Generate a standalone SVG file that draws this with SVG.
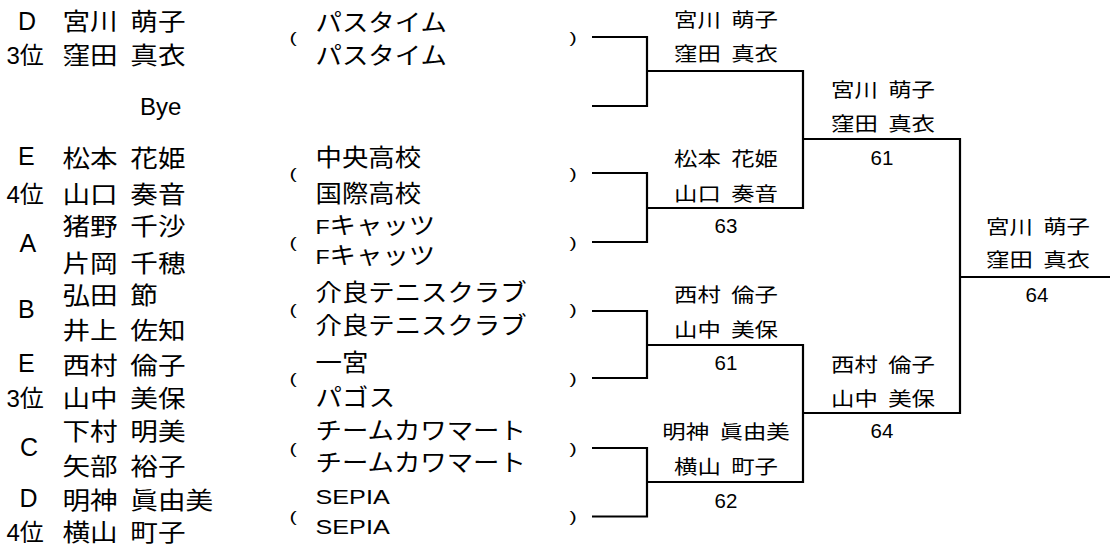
<svg xmlns="http://www.w3.org/2000/svg" width="1110" height="546" viewBox="0 0 1110 546">
<style>
.nm{font-family:"Noto Sans CJK JP",sans-serif;font-size:24px;word-spacing:5.6px;fill:#000}
.lt{font-family:"Liberation Sans","Noto Sans CJK JP",sans-serif;font-size:25px;fill:#000}
.rk{font-family:"Liberation Sans","Noto Sans CJK JP",sans-serif;font-size:24px;fill:#000}
.cl{font-family:"Liberation Sans","Noto Sans CJK JP",sans-serif;font-size:24px;fill:#000}
.pr{font-family:"Liberation Sans",sans-serif;font-size:14.5px;fill:#000}
.lb{font-family:"Noto Sans CJK JP",sans-serif;font-size:19.5px;word-spacing:4.3px;text-anchor:middle;fill:#000}
.sc{font-family:"Liberation Sans",sans-serif;font-size:20.5px;text-anchor:middle;fill:#000}
.ln{fill:none;stroke:#000;stroke-width:2.2;stroke-linejoin:miter}
</style>
<rect width="1110" height="546" fill="#fff"/>

<g id="entry1">
<text class="lt" x="18" y="30">D</text>
<text class="rk" x="6.5" y="64">3位</text>
<text class="nm" transform="translate(62.5,30) scale(1.15,1)">宮川 萌子</text>
<text class="nm" transform="translate(62.5,63.5) scale(1.15,1)">窪田 真衣</text>
<text class="cl" transform="translate(315.5,30.5) scale(1.1,1)">パスタイム</text>
<text class="cl" transform="translate(315.5,64) scale(1.1,1)">パスタイム</text>
<text class="pr" transform="translate(289.5,42.5) scale(1.5,1)">(</text>
<text class="pr" transform="translate(569.5,42.5) scale(1.5,1)">)</text>
</g>

<g id="bye">
<text class="rk" x="140" y="115">Bye</text>
</g>

<g id="entry2">
<text class="lt" x="18" y="165">E</text>
<text class="rk" x="6.5" y="203">4位</text>
<text class="nm" transform="translate(62.5,166.5) scale(1.15,1)">松本 花姫</text>
<text class="nm" transform="translate(62.5,203) scale(1.15,1)">山口 奏音</text>
<text class="cl" transform="translate(315.5,165.5) scale(1.1,1)">中央高校</text>
<text class="cl" transform="translate(315.5,202) scale(1.1,1)">国際高校</text>
<text class="pr" transform="translate(289.5,179) scale(1.5,1)">(</text>
<text class="pr" transform="translate(569.5,179) scale(1.5,1)">)</text>
</g>

<g id="entry3">
<text class="lt" x="19.5" y="251.7">A</text>
<text class="nm" transform="translate(62.5,235) scale(1.15,1)">猪野 千沙</text>
<text class="nm" transform="translate(62.5,272) scale(1.15,1)">片岡 千穂</text>
<text class="cl" transform="translate(315.5,233.5) scale(1.1,1)"><tspan style="font-size:21px">F</tspan>キャッツ</text>
<text class="cl" transform="translate(315.5,263.5) scale(1.1,1)"><tspan style="font-size:21px">F</tspan>キャッツ</text>
<text class="pr" transform="translate(289.5,247.5) scale(1.5,1)">(</text>
<text class="pr" transform="translate(569.5,247.5) scale(1.5,1)">)</text>
</g>

<g id="entry4">
<text class="lt" x="18" y="318.3">B</text>
<text class="nm" transform="translate(62.5,303.5) scale(1.15,1)">弘田 節</text>
<text class="nm" transform="translate(62.5,338.5) scale(1.15,1)">井上 佐知</text>
<text class="cl" transform="translate(315.5,301) scale(1.1,1)">介良テニスクラブ</text>
<text class="cl" transform="translate(315.5,334) scale(1.1,1)">介良テニスクラブ</text>
<text class="pr" transform="translate(289.5,314.5) scale(1.5,1)">(</text>
<text class="pr" transform="translate(569.5,314.5) scale(1.5,1)">)</text>
</g>

<g id="entry5">
<text class="lt" x="18" y="372">E</text>
<text class="rk" x="6.5" y="407">3位</text>
<text class="nm" transform="translate(62.5,373.5) scale(1.15,1)">西村 倫子</text>
<text class="nm" transform="translate(62.5,407) scale(1.15,1)">山中 美保</text>
<text class="cl" transform="translate(315.5,370.5) scale(1.1,1)">一宮</text>
<text class="cl" transform="translate(315.5,405.5) scale(1.1,1)">パゴス</text>
<text class="pr" transform="translate(289.5,383.5) scale(1.5,1)">(</text>
<text class="pr" transform="translate(569.5,383.5) scale(1.5,1)">)</text>
</g>

<g id="entry6">
<text class="lt" x="20" y="456">C</text>
<text class="nm" transform="translate(62.5,440) scale(1.15,1)">下村 明美</text>
<text class="nm" transform="translate(62.5,475) scale(1.15,1)">矢部 裕子</text>
<text class="cl" transform="translate(315.5,439) scale(1.1,1)">チームカワマート</text>
<text class="cl" transform="translate(315.5,470.5) scale(1.1,1)">チームカワマート</text>
<text class="pr" transform="translate(289.5,453.5) scale(1.5,1)">(</text>
<text class="pr" transform="translate(569.5,453.5) scale(1.5,1)">)</text>
</g>

<g id="entry7">
<text class="lt" x="19.5" y="507">D</text>
<text class="rk" x="6.5" y="541">4位</text>
<text class="nm" transform="translate(62.5,508.5) scale(1.15,1)">明神 眞由美</text>
<text class="nm" transform="translate(62.5,541) scale(1.15,1)">横山 町子</text>
<text class="cl" style="font-size:21px" transform="translate(315.5,503.5) scale(1.2,1)">SEPIA</text>
<text class="cl" style="font-size:21px" transform="translate(315.5,533.5) scale(1.2,1)">SEPIA</text>
<text class="pr" transform="translate(289.5,521.5) scale(1.5,1)">(</text>
<text class="pr" transform="translate(569.5,521.5) scale(1.5,1)">)</text>
</g>

<g id="connectors">
<path class="ln" d="M592,37 H647 V106 H592"/>
<path class="ln" d="M592,173 H647 V242 H592"/>
<path class="ln" d="M592,311 H647 V378 H592"/>
<path class="ln" d="M592,448 H647 V516.5 H592"/>
<path class="ln" d="M647,71 H803 V208 H647"/>
<path class="ln" d="M647,345 H803 V482 H647"/>
<path class="ln" d="M803,139 H960 V413 H803"/>
<path class="ln" d="M960,277 H1110"/>
</g>

<g id="r1m1">
<text class="lb" transform="translate(726,27.3) scale(1.2,1)">宮川 萌子</text>
<text class="lb" transform="translate(726,60.7) scale(1.2,1)">窪田 真衣</text>
</g>
<g id="r1m2">
<text class="lb" transform="translate(726,165.7) scale(1.2,1)">松本 花姫</text>
<text class="lb" transform="translate(726,200.7) scale(1.2,1)">山口 奏音</text>
<text class="sc" x="726" y="233.3">63</text>
</g>
<g id="r1m3">
<text class="lb" transform="translate(726,302.3) scale(1.2,1)">西村 倫子</text>
<text class="lb" transform="translate(726,337.3) scale(1.2,1)">山中 美保</text>
<text class="sc" x="726" y="370">61</text>
</g>
<g id="r1m4">
<text class="lb" transform="translate(726,439) scale(1.2,1)">明神 眞由美</text>
<text class="lb" transform="translate(726,474) scale(1.2,1)">横山 町子</text>
<text class="sc" x="726" y="508.3">62</text>
</g>
<g id="r2m1">
<text class="lb" transform="translate(883,97.3) scale(1.2,1)">宮川 萌子</text>
<text class="lb" transform="translate(883,130.7) scale(1.2,1)">窪田 真衣</text>
<text class="sc" x="882" y="165">61</text>
</g>
<g id="r2m2">
<text class="lb" transform="translate(883,372.3) scale(1.2,1)">西村 倫子</text>
<text class="lb" transform="translate(883,405.7) scale(1.2,1)">山中 美保</text>
<text class="sc" x="882" y="438.3">64</text>
</g>
<g id="final">
<text class="lb" transform="translate(1038,234) scale(1.2,1)">宮川 萌子</text>
<text class="lb" transform="translate(1038,267.3) scale(1.2,1)">窪田 真衣</text>
<text class="sc" x="1037" y="301.7">64</text>
</g>
</svg>
